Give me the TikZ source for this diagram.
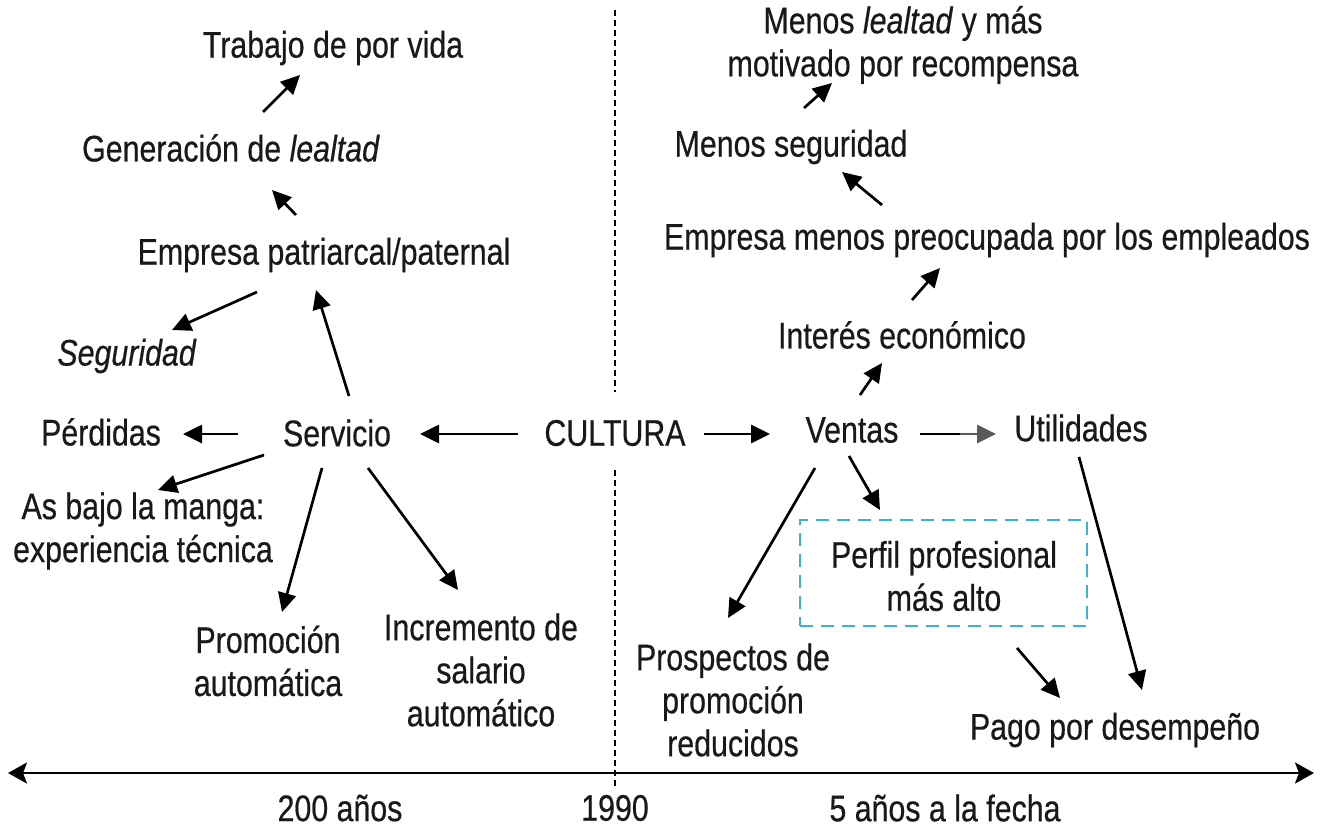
\documentclass[tikz,border=0pt]{standalone}
\usepackage{fontspec}
\setmainfont{Liberation Sans}[FakeStretch=0.82,FakeBold=0.5]
\usetikzlibrary{arrows.meta,calc}
\definecolor{boxcyan}{RGB}{59,178,206}
\begin{document}
\begin{tikzpicture}[x=1pt,y=-1pt,
  lbl/.style={align=center,inner sep=0pt,font=\fontsize{37}{43}\selectfont,text=black!90},
  arr/.style={line width=2.7pt,-{Triangle[length=19pt,width=18pt]}},
  timeline/.style={line width=2.7pt,{Stealth[length=19pt,width=21pt,inset=4pt]}-{Stealth[length=19pt,width=21pt,inset=4pt]}},
  era/.style={dash pattern=on 6pt off 4pt,line width=1.3pt},
  perfbox/.style={draw=boxcyan,line width=2.6pt,dash pattern=on 13pt off 8pt,minimum width=287pt,minimum height=106pt,inner sep=0pt}]
\useasboundingbox (0,0) rectangle (1322,833);
% nodes
\node[lbl] (trab) at (333,48) {Trabajo de por vida};
\node[lbl] (gen) at (231,148) {Generación de \textit{lealtad}};
\node[lbl] (emp) at (324,255) {Empresa patriarcal/paternal};
\node[lbl] (seg) at (127,356) {\textit{Seguridad}};
\node[lbl] (perd) at (101,432) {Pérdidas};
\node[lbl] (serv) at (337,433) {Servicio};
\node[lbl] (cult) at (615,433) {CULTURA};
\node[lbl] (vent) at (852,430) {Ventas};
\node[lbl] (util) at (1081,428) {Utilidades};
\node[lbl] (as) at (143,531) {As bajo la manga:\\experiencia técnica};
\node[lbl] (prom) at (268,661) {Promoción\\automática};
\node[lbl] (inc) at (481,670) {Incremento de\\salario\\automático};
\node[lbl] (pros) at (733,700) {Prospectos de\\promoción\\reducidos};
\node[perfbox] (perfb) at (943.5,573) {};
\node[lbl] (perf) at (944,576) {Perfil profesional\\más alto};
\node[lbl] (pago) at (1115,730) {Pago por desempeño};
\node[lbl] (inte) at (902,335) {Interés económico};
\node[lbl] (emen) at (987,240) {Empresa menos preocupada por los empleados};
\node[lbl] (mseg) at (791,147) {Menos seguridad};
\node[lbl] (mlea) at (903,45) {Menos \textit{lealtad} y más\\motivado por recompensa};
\node[lbl] (y200) at (340,808) {200 años};
\node[lbl] (y1990) at (615,808) {1990};
\node[lbl] (y5) at (945,808) {5 años a la fecha};
% era divider and timeline
\coordinate (dtop) at (615,10);
\coordinate (dmid1) at (615,392);
\coordinate (dmid2) at (615,470);
\coordinate (dbot) at (615,787);
\draw[era] (dtop) -- (dmid1);
\draw[era] (dmid2) -- (dbot);
\coordinate (tl) at (8,773);
\coordinate (tr) at (1314,773);
\draw[timeline] (tl) -- (tr);
% connectors
\draw[arr] ([shift={(32,-36)}]gen.center) -- ([shift={(-33,27)}]trab.center);
\draw[arr] ([shift={(-28,-40)}]emp.center) -- ([shift={(41,42)}]gen.center);
\draw[arr] ([shift={(-67,37)}]emp.center) -- ([shift={(45,-26)}]seg.center);
\draw[arr] ([shift={(12,-37)}]serv.center) -- ([shift={(-8,35)}]emp.center);
\draw[arr] ([shift={(-99,1)}]serv.center) -- ([shift={(82,2)}]perd.center);
\draw[arr] ([shift={(-97,1)}]cult.center) -- ([shift={(83,1)}]serv.center);
\draw[arr] ([shift={(89,1)}]cult.center) -- ([shift={(-82,4)}]vent.center);
\draw[arr] ([shift={(-73,22)}]serv.center) -- ([shift={(15,-41)}]as.center);
\draw[arr] ([shift={(-15,35)}]serv.center) -- ([shift={(14,-49)}]prom.center);
\draw[arr] ([shift={(31,35)}]serv.center) -- ([shift={(-23,-80)}]inc.center);
\draw[arr] ([shift={(8,-35)}]vent.center) -- ([shift={(-20,28)}]inte.center);
\draw[arr] ([shift={(10,-35)}]inte.center) -- ([shift={(-47,28)}]emen.center);
\draw[arr] ([shift={(-105,-35)}]emen.center) -- ([shift={(51,25)}]mseg.center);
\draw[arr] ([shift={(13,-39)}]mseg.center) -- ([shift={(-71,38)}]mlea.center);
\coordinate (vu) at ([shift={(-121,6)}]util.center);
\draw[line width=2.7pt] ([shift={(68,4)}]vent.center) -- (vu);
\draw[arr,black!65] (vu) -- ([shift={(-85,6)}]util.center);
\draw[arr] ([shift={(-3,26)}]vent.center) -- ([shift={(-64,-66)}]perf.center);
\draw[arr] ([shift={(-37,38)}]vent.center) -- ([shift={(-5,-82)}]pros.center);
\draw[arr] ([shift={(-2,29)}]util.center) -- ([shift={(27,-40)}]pago.center);
\draw[arr] ([shift={(73,72)}]perf.center) -- ([shift={(-55,-32)}]pago.center);
\end{tikzpicture}
\end{document}
